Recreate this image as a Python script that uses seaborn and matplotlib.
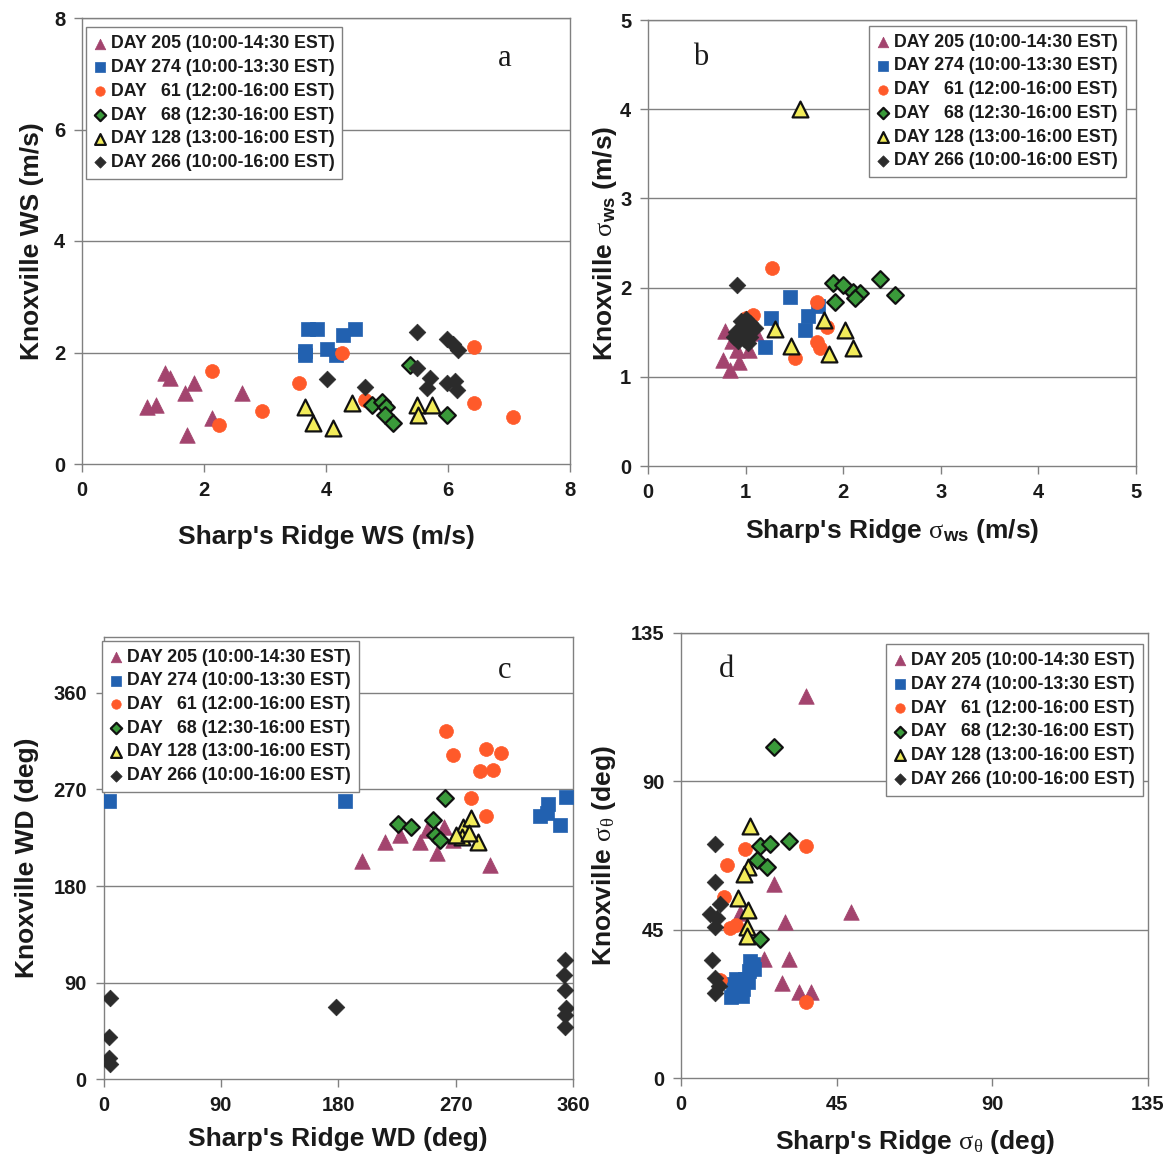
import matplotlib
matplotlib.use("Agg")
import matplotlib.pyplot as plt
import seaborn as sns

sns.set_theme(style="white")
plt.rcParams['font.family'] = ['Liberation Sans', 'DejaVu Sans']
plt.rcParams['mathtext.fontset'] = 'custom'
plt.rcParams['mathtext.rm'] = 'Liberation Serif'
plt.rcParams['mathtext.bf'] = 'Liberation Sans:bold'
plt.rcParams['mathtext.it'] = 'Liberation Serif:italic'

# ---------------- data ----------------
series_labels = ["DAY 205 (10:00-14:30 EST)", "DAY 274 (10:00-13:30 EST)",
                 "DAY   61 (12:00-16:00 EST)", "DAY   68 (12:30-16:00 EST)",
                 "DAY 128 (13:00-16:00 EST)", "DAY 266 (10:00-16:00 EST)"]

# panel a : wind speed
a205x = [1.06, 1.22, 1.36, 1.44, 1.69, 1.83, 1.72, 2.13, 2.63]
a205y = [1.03, 1.06, 1.63, 1.54, 1.28, 1.45, 0.52, 0.82, 1.27]
a274x = [3.71, 3.85, 4.48, 4.28, 3.65, 3.66, 4.01, 4.17]
a274y = [2.42, 2.43, 2.42, 2.31, 2.02, 1.95, 2.07, 1.95]
a61x = [2.13, 3.55, 4.27, 2.95, 2.24, 6.42, 6.42, 7.07, 4.64]
a61y = [1.67, 1.45, 2.00, 0.95, 0.70, 2.10, 1.09, 0.85, 1.15]
a68x = [5.38, 4.75, 4.91, 4.99, 4.97, 5.10, 5.98]
a68y = [1.78, 1.06, 1.12, 1.03, 0.88, 0.73, 0.88]
a128x = [3.66, 3.79, 4.12, 4.42, 5.49, 5.51, 5.73]
a128y = [1.03, 0.73, 0.64, 1.09, 1.06, 0.88, 1.06]
a266x = [5.49, 5.98, 6.09, 6.17, 4.01, 4.64, 5.49, 5.70, 5.65, 5.98, 6.11, 6.14]
a266y = [2.36, 2.25, 2.16, 2.04, 1.52, 1.38, 1.72, 1.54, 1.36, 1.45, 1.48, 1.33]

# panel b : sigma ws
b205x = [0.77, 0.84, 0.93, 0.91, 1.03, 0.79, 0.86, 1.11]
b205y = [1.19, 1.08, 1.17, 1.30, 1.30, 1.51, 1.40, 1.49]
b274x = [1.46, 1.26, 1.20, 1.64, 1.61, 1.74]
b274y = [1.90, 1.66, 1.33, 1.68, 1.53, 1.79]
b61x = [1.27, 1.73, 1.83, 1.73, 1.76, 1.51, 1.08, 1.00]
b61y = [2.22, 1.84, 1.56, 1.39, 1.32, 1.21, 1.69, 1.66]
b68x = [1.90, 2.00, 2.10, 2.17, 1.92, 2.12, 2.38, 2.53]
b68y = [2.05, 2.03, 1.95, 1.94, 1.84, 1.88, 2.10, 1.92]
b128x = [1.30, 1.47, 1.80, 2.02, 1.85, 2.10, 1.56]
b128y = [1.54, 1.34, 1.64, 1.52, 1.26, 1.32, 4.00]
b266x = [0.91, 0.95, 1.00, 1.05, 0.90, 0.95, 1.00, 1.05, 0.92, 0.98, 1.02, 0.88, 1.10]
b266y = [2.03, 1.62, 1.65, 1.60, 1.50, 1.55, 1.50, 1.45, 1.40, 1.42, 1.38, 1.45, 1.55]

# panel c : wind direction
c205x = [198, 216, 227, 243, 256, 248, 261, 268, 296]
c205y = [203, 221, 228, 221, 211, 232, 235, 223, 200]
c274x = [4, 185, 355, 341, 335, 350, 340]
c274y = [259, 259, 263, 256, 245, 237, 248]
c61x = [263, 268, 293, 305, 289, 299, 282, 293]
c61y = [324, 302, 308, 304, 287, 288, 262, 245]
c68x = [262, 226, 236, 253, 254, 258]
c68y = [262, 238, 235, 242, 228, 223]
c128x = [276, 282, 275, 287, 270, 280]
c128y = [235, 243, 226, 221, 228, 229]
c266x = [5, 4, 4, 5, 178, 354, 353, 354, 355, 354, 354]
c266y = [76, 39, 20, 14, 67, 111, 97, 83, 66, 60, 49]

# panel d : sigma theta
d205x = [36.0, 26.8, 49.1, 30.2, 23.9, 31.1, 29.2, 34.1, 37.5, 17.0]
d205y = [115.9, 58.9, 50.3, 47.3, 36.2, 36.2, 28.7, 26.1, 26.1, 50.0]
d274x = [14.5, 15.5, 16.5, 17.0, 18.0, 18.5, 19.5, 19.8, 20.8, 21.0, 16.0, 15.0, 17.5, 20.0]
d274y = [24.5, 26.5, 25.5, 28.0, 27.0, 30.0, 29.0, 32.5, 34.5, 33.0, 30.0, 28.5, 24.8, 35.5]
d61x = [18.6, 36.0, 13.3, 12.3, 14.2, 16.0, 11.3, 36.0]
d61y = [69.5, 70.5, 64.5, 54.9, 45.4, 46.5, 29.7, 23.2]
d68x = [26.8, 22.9, 25.8, 31.1, 21.9, 24.9, 22.9]
d68y = [100.3, 70.5, 71.0, 72.0, 66.0, 64.0, 42.3]
d128x = [20.0, 19.5, 18.1, 16.6, 19.5, 19.0, 19.0]
d128y = [76.6, 64.0, 62.0, 54.5, 51.0, 45.9, 43.2]
d266x = [9.9, 9.9, 11.3, 8.4, 10.4, 9.9, 8.9, 9.9, 9.9, 11.0]
d266y = [71.0, 59.4, 52.9, 49.9, 48.4, 45.9, 35.9, 30.4, 25.9, 28.0]

# ---------------- styles ----------------
colors = ['#A3446E', '#2261B0', '#FF5A2A', '#3A9A3A', '#F2EC5A', '#2B2B2B']
markers = ['^', 's', 'o', 'D', '^', 'D']
sizes = [125, 100, 100, 72, 130, 72]
edges = ['#A3446E', '#2261B0', '#FF5A2A', '#111111', '#111111', '#2B2B2B']
edge_w = [0.5, 0.5, 0.5, 1.6, 1.6, 0.5]

GREY = '#808080'
TICKFS = 14.5
LABFS = 19
LEGFS = 12.75

fig = plt.figure(figsize=(11.70, 11.66), dpi=100)
W, H = 1170.0, 1166.0

def make_ax(left, top, right, bottom):
    return fig.add_axes([left / W, 1 - bottom / H, (right - left) / W, (bottom - top) / H])

def draw(ax, xs, ys, xlim, ylim, xticks, yticks, xlabel, ylabel, letter, letter_pos,
         leg_anchor, xpad, ypad):
    for i in range(6):
        sns.scatterplot(x=xs[i], y=ys[i], ax=ax, color=colors[i], marker=markers[i],
                        s=sizes[i], edgecolor=edges[i], linewidth=edge_w[i],
                        label=series_labels[i], zorder=3 + i)
    ax.set_xlim(*xlim)
    ax.set_ylim(*ylim)
    ax.set_xticks(xticks)
    ax.set_yticks(yticks)
    ax.set_xticklabels([str(t) for t in xticks], fontsize=TICKFS, fontweight='bold', color='#1a1a1a')
    ax.set_yticklabels([str(t) for t in yticks], fontsize=TICKFS, fontweight='bold', color='#1a1a1a')
    for yt in yticks[1:]:
        ax.axhline(yt, color=GREY, lw=1.0, zorder=1)
    for sp in ax.spines.values():
        sp.set_visible(True)
        sp.set_color(GREY)
        sp.set_linewidth(1.0)
    ax.tick_params(axis='both', which='major', direction='out', length=6, width=1.0,
                   color=GREY, pad=6, bottom=True, left=True)
    ax.set_xlabel(xlabel, fontsize=LABFS, fontweight='bold', color='#1a1a1a', labelpad=xpad)
    ax.set_ylabel(ylabel, fontsize=LABFS, fontweight='bold', color='#1a1a1a', labelpad=ypad)
    ax.text(letter_pos[0], letter_pos[1], letter, transform=ax.transAxes,
            fontsize=22, family='Liberation Serif', ha='center', va='center', color='#1a1a1a')
    leg = ax.legend(loc='upper left', bbox_to_anchor=leg_anchor, borderaxespad=0,
                    frameon=True, fancybox=False, markerscale=0.68,
                    handlelength=0.7, handletextpad=0.25, labelspacing=0.38,
                    borderpad=0.45, edgecolor=GREY, framealpha=1.0,
                    prop={'weight': 'bold', 'size': LEGFS})
    leg.get_frame().set_linewidth(1.0)
    for t in leg.get_texts():
        t.set_color('#1a1a1a')
    leg.set_zorder(20)

# panel a
ax_a = make_ax(82, 18, 570, 464)
draw(ax_a, [a205x, a274x, a61x, a68x, a128x, a266x],
     [a205y, a274y, a61y, a68y, a128y, a266y],
     (0, 8), (0, 8), [0, 2, 4, 6, 8], [0, 2, 4, 6, 8],
     "Sharp's Ridge WS (m/s)", "Knoxville WS (m/s)", 'a', (0.867, 0.91), (0.008, 0.979),
     18, 7)

# panel b
ax_b = make_ax(648, 20, 1136, 466)
draw(ax_b, [b205x, b274x, b61x, b68x, b128x, b266x],
     [b205y, b274y, b61y, b68y, b128y, b266y],
     (0, 5), (0, 5), [0, 1, 2, 3, 4, 5], [0, 1, 2, 3, 4, 5],
     r"Sharp's Ridge $\mathrm{\sigma}_{\mathbf{ws}}$ (m/s)",
     r"Knoxville $\mathrm{\sigma}_{\mathbf{ws}}$ (m/s)", 'b', (0.107, 0.915), (0.453, 0.987),
     11, 1)

# panel c
ax_c = make_ax(103.5, 637, 573, 1079.3)
draw(ax_c, [c205x, c274x, c61x, c68x, c128x, c266x],
     [c205y, c274y, c61y, c68y, c128y, c266y],
     (0, 360), (0, 412), [0, 90, 180, 270, 360], [0, 90, 180, 270, 360],
     "Sharp's Ridge WD (deg)", "Knoxville WD (deg)", 'c', (0.855, 0.925), (-0.003, 0.992),
     9, 10)

# panel d
ax_d = make_ax(681, 633, 1148, 1078)
draw(ax_d, [d205x, d274x, d61x, d68x, d128x, d266x],
     [d205y, d274y, d61y, d68y, d128y, d266y],
     (0, 135), (0, 135), [0, 45, 90, 135], [0, 45, 90, 135],
     r"Sharp's Ridge $\mathrm{\sigma}_{\mathrm{\theta}}$ (deg)",
     r"Knoxville $\mathrm{\sigma}_{\mathrm{\theta}}$ (deg)", 'd', (0.0985, 0.917), (0.439, 0.975),
     10, 9)

fig.savefig("out.png", dpi=100, facecolor='white')
